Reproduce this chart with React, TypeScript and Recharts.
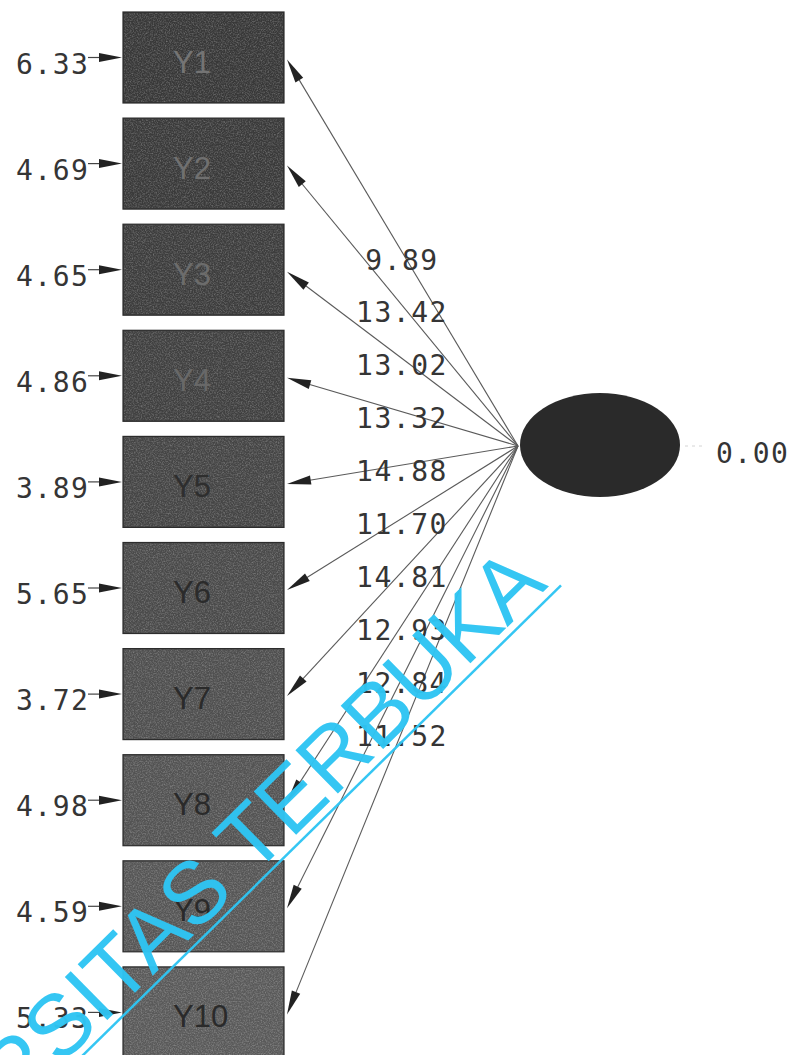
import React from 'react';
import { ScatterChart, Scatter, XAxis, YAxis, ReferenceLine, ReferenceDot } from 'recharts';

// ---------- data ----------
const indicators = ['Y1', 'Y2', 'Y3', 'Y4', 'Y5', 'Y6', 'Y7', 'Y8', 'Y9', 'Y10'];
const errorVariances = [6.33, 4.69, 4.65, 4.86, 3.89, 5.65, 3.72, 4.98, 4.59, 5.33];
const loadings = [9.89, 13.42, 13.02, 13.32, 14.88, 11.7, 14.81, 12.93, 12.84, 11.52];
const latentVariance = [0.0];
const watermark = ['UNIVERSITAS TERBUKA'];

// ---------- layout (chart units = pixels) ----------
const W = 801;
const H = 1055;
const BOX_LEFT = 123;
const BOX_W = 161;
const BOX_H = 91;
const BOX_TOP = 12;
const BOX_STEP = 106.1;
const ELL_CX = 600;
const ELL_CY = 445;
const ELL_RX = 80;
const ELL_RY = 52;
const LABEL_X = 401;
const LABEL_Y0 = 259.5;
const LABEL_STEP = 52.9;
const WM_X = 549;
const WM_Y = 586;

// ---------- styles ----------
const boxFills = ['#383838', '#3a3a3a', '#3d3d3d', '#404040', '#454545', '#4a4a4a', '#4f4f4f', '#535353', '#565656', '#5a5a5a'];
const boxTextFills = ['#747474', '#707070', '#6c6c6c', '#686868', '#2e2e2e', '#2b2b2b', '#2a2a2a', '#2a2a2a', '#2a2a2a', '#2a2a2a'];
const MONO = '"DejaVu Sans Mono", monospace';
const SANS = '"Liberation Sans", Arial, sans-serif';
const NUM_COLOR = '#353535';
const CYAN = '#2fc5f3';

const fmt = (v: number) => v.toFixed(2);

const boxData = indicators.map((name, i) => ({
  x: BOX_LEFT + BOX_W / 2,
  y: BOX_TOP + i * BOX_STEP + BOX_H / 2,
  name,
  err: errorVariances[i],
  i,
}));

const loadingLabelData = loadings.map((v, i) => ({ x: LABEL_X, y: LABEL_Y0 + i * LABEL_STEP, v }));
const latentData = [{ x: ELL_CX, y: ELL_CY, v: latentVariance[0] }];

const BoxShape = (props: any) => {
  const { cx, cy, payload } = props;
  const i = payload.i;
  const x0 = cx - BOX_W / 2;
  const y0 = cy - BOX_H / 2;
  return (
    <g>
      <rect x={x0} y={y0} width={BOX_W} height={BOX_H} fill={boxFills[i]} stroke="#2c2c2c" strokeWidth={1.2} />
      <rect x={x0 + 1} y={y0 + 1} width={BOX_W - 2} height={BOX_H - 2} fill="#000" filter="url(#grain)" />
      <text x={x0 + 50} y={cy + 15} fontFamily={SANS} fontSize={31} fill={boxTextFills[i]}>
        {payload.name}
      </text>
      {/* error arrow */}
      <line x1={x0 - 35} y1={cy} x2={x0 - 18} y2={cy} stroke="#444" strokeWidth={1.2} />
      <polygon points={`${x0 - 1},${cy} ${x0 - 24},${cy - 4.5} ${x0 - 24},${cy + 4.5}`} fill="#222" />
      <text x={x0 - 107} y={cy + 16} fontFamily={MONO} fontSize={28} letterSpacing={1.5} fill={NUM_COLOR}>
        {fmt(payload.err)}
      </text>
    </g>
  );
};

const ArrowShape = (props: any) => {
  const { x1, y1, x2, y2 } = props;
  const dx = x1 - x2;
  const dy = y1 - y2;
  const len = Math.sqrt(dx * dx + dy * dy) || 1;
  const ux = dx / len;
  const uy = dy / len;
  const bx = x2 + ux * 24;
  const by = y2 + uy * 24;
  const nx = -uy * 4.5;
  const ny = ux * 4.5;
  return (
    <g>
      <line x1={x1} y1={y1} x2={x2 + ux * 6} y2={y2 + uy * 6} stroke="#5a5a5a" strokeWidth={1.1} />
      <polygon points={`${x2},${y2} ${bx + nx},${by + ny} ${bx - nx},${by - ny}`} fill="#222" />
    </g>
  );
};

const LoadingLabel = (props: any) => {
  const { cx, cy, payload } = props;
  return (
    <text x={cx + 1} y={cy + 10} textAnchor="middle" fontFamily={MONO} fontSize={28} letterSpacing={1.5} fill={NUM_COLOR}>
      {fmt(payload.v)}
    </text>
  );
};

const LatentShape = (props: any) => {
  const { cx, cy, payload } = props;
  return (
    <g>
      <defs>
        <filter id="grain" x="0" y="0" width="100%" height="100%">
          <feTurbulence type="fractalNoise" baseFrequency="0.75" numOctaves="3" seed="7" result="noise" />
          <feColorMatrix
            in="noise"
            type="matrix"
            values="0 0 0 0 1  0 0 0 0 1  0 0 0 0 1  0.55 0 0 0 -0.22"
            result="speck"
          />
          <feComposite in="speck" in2="SourceGraphic" operator="in" />
        </filter>
      </defs>
      <ellipse cx={cx} cy={cy} rx={ELL_RX} ry={ELL_RY} fill="#2a2a2a" />
      <line x1={cx + ELL_RX + 5} y1={cy + 1} x2={cx + ELL_RX + 24} y2={cy + 1} stroke="#d4d4d4" strokeWidth={1} strokeDasharray="3 4" />
      <text x={cx + 116} y={cy + 18} fontFamily={MONO} fontSize={28} letterSpacing={1.5} fill={NUM_COLOR}>
        {fmt(payload.v)}
      </text>
    </g>
  );
};

const WatermarkShape = (props: any) => {
  const { cx, cy } = props;
  return (
    <g transform={`rotate(-44.5 ${cx} ${cy})`} opacity={0.97}>
      <text x={cx} y={cy} textAnchor="end" fontFamily={SANS} fontSize={88} fill={CYAN}>
        {watermark[0]}
      </text>
      <line x1={cx + 9} y1={cy + 8} x2={cx - 1000} y2={cy + 8} stroke={CYAN} strokeWidth={2.5} />
    </g>
  );
};

export default function App() {
  return (
    <div style={{ position: 'absolute', left: 0, top: 0, width: W, height: H, background: '#fff', overflow: 'hidden' }}>
      <ScatterChart width={W} height={H} margin={{ top: 0, right: 0, bottom: 0, left: 0 }}>
        <XAxis type="number" dataKey="x" domain={[0, W]} hide allowDataOverflow />
        <YAxis type="number" dataKey="y" domain={[0, H]} reversed hide allowDataOverflow />
        <Scatter data={latentData} shape={LatentShape} isAnimationActive={false} />
        <Scatter data={boxData} shape={BoxShape} isAnimationActive={false} />
        {boxData.map((b) => (
          <ReferenceLine
            key={b.name}
            segment={[
              { x: ELL_CX - ELL_RX - 2, y: ELL_CY + 1 },
              { x: BOX_LEFT + BOX_W + 3, y: b.y + 2 },
            ]}
            shape={ArrowShape}
            ifOverflow="visible"
          />
        ))}
        <Scatter data={loadingLabelData} shape={LoadingLabel} isAnimationActive={false} />
        <ReferenceDot x={WM_X} y={WM_Y} r={0} shape={WatermarkShape} ifOverflow="visible" />
      </ScatterChart>
    </div>
  );
}
